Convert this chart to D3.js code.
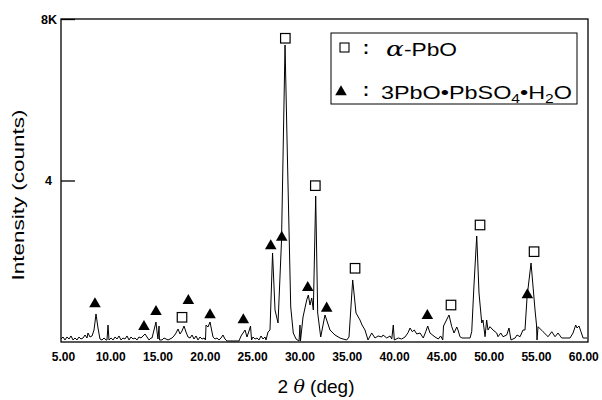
<!DOCTYPE html>
<html lang="en">
<head>
<meta charset="UTF-8">
<title>XRD pattern</title>
<script src="https://cdn.jsdelivr.net/npm/d3@7"></script>
<style>
    body { margin: 0; background: #fff; }
    svg text { font-family: "Liberation Sans", Arial, Helvetica, sans-serif; fill: #000; }
    .x-axis text { font-weight: bold; font-size: 12px; }
    .y-axis text { font-weight: bold; font-size: 12.5px; }
</style>
</head>
<body>
<div id="chart"></div>
<script>
// diffraction pattern (2theta in deg, intensity in counts)
const twoTheta = [
    4.80, 5.01, 5.22, 5.43, 5.65, 5.86, 6.07, 6.28, 6.49, 6.70, 6.91, 7.13, 7.34, 7.55, 7.65, 7.87,
    8.08, 8.29, 8.50, 8.71, 8.92, 9.13, 9.35, 9.56, 9.66, 9.77, 9.87, 10.09, 10.30, 10.51, 10.72, 10.93,
    11.14, 11.35, 11.56, 11.78, 11.99, 12.20, 12.41, 12.62, 12.83, 13.04, 13.26, 13.47, 13.68, 13.89, 14.10, 14.31,
    14.42, 14.63, 14.84, 14.95, 15.05, 15.16, 15.21, 15.48, 15.69, 15.90, 16.11, 16.32,
    16.53, 16.74, 16.96, 17.17, 17.38, 17.59, 17.80, 18.01, 18.22, 18.44, 18.65, 18.86, 19.07, 19.28, 19.49, 19.70,
    19.92, 20.07, 20.13, 20.34, 20.55, 20.76, 20.87, 21.08, 21.29, 21.50, 21.71, 21.92, 22.13, 22.35, 23.61, 23.83,
    24.04, 24.25, 24.46, 24.67, 24.83, 24.94, 25.09, 25.31, 25.52, 25.73, 25.94, 26.15, 26.36, 26.47, 26.68, 26.89,
    27.16, 27.42, 27.74, 28.11, 28.48, 28.72, 29.08, 29.35, 29.64, 29.96, 30.06, 30.11, 30.38, 30.77, 30.94, 31.12,
    31.30, 31.47, 31.72, 31.93, 32.25, 32.70, 33.23, 33.76, 34.29, 34.61, 35.00, 35.24, 35.63, 35.98, 36.40, 36.62,
    36.93, 37.25, 37.64, 37.99, 38.31, 38.70, 38.84, 39.23, 39.58, 39.76, 39.92, 40.03, 40.45, 40.81, 41.16, 41.48,
    41.69, 41.93, 42.14, 42.40, 42.75, 43.09, 43.35, 43.56, 43.80, 44.33, 44.68, 44.93, 45.15, 45.23, 45.81, 46.10,
    46.34, 46.63, 46.76, 46.97, 47.19, 47.61, 48.03, 48.21, 48.45, 48.74, 48.98, 49.27, 49.40, 49.62, 49.79, 49.93,
    50.14, 50.46, 50.85, 50.99, 51.28, 51.52, 51.91, 52.15, 52.36, 52.79, 53.00, 53.32, 53.63, 53.84, 54.06, 54.48,
    54.90, 55.06, 55.11, 55.22, 55.75, 56.28, 56.67, 57.02, 57.33, 57.72, 58.60, 58.92, 59.20, 59.34, 59.55, 59.76,
    59.98, 60.40
];
const counts = [
    74, 124, 50, 124, 74, 149, 50, 99, 50, 124, 74, 99, 173, 99, 223, 124,
    149, 297, 694, 347, 74, 50, 99, 50, 50, 421, 50, 99, 50, 124, 74, 149,
    50, 99, 74, 149, 50, 124, 74, 99, 50, 124, 99, 149, 198, 124, 50, 99,
    99, 297, 495, 248, 74, 396, 50, 50, 99, 74, 50, 74,
    99, 149, 223, 322, 198, 272, 396, 248, 124, 99, 173, 74, 149, 50, 124, 74,
    99, 50, 421, 372, 495, 248, 124, 74, 99, 50, 99, 173, 74, 25, 25, 149,
    223, 297, 124, 272, 396, 50, 124, 74, 99, 50, 149, 74, 124, 50, 248, 297,
    2205, 793, 471, 2526, 7357, 4682, 867, 223, 74, 25, 421, 25, 619, 1040, 1164, 916,
    1090, 793, 3616, 718, 124, 669, 297, 173, 99, 74, 50, 124, 1536, 718, 545, 421,
    297, 50, 223, 99, 149, 124, 173, 99, 149, 74, 421, 50, 99, 74, 124, 230,
    347, 255, 297, 198, 223, 99, 255, 396, 223, 124, 74, 149, 50, 396, 669, 379,
    223, 372, 297, 130, 99, 99, 99, 255, 1412, 2626, 1214, 471, 545, 131, 545, 297,
    379, 297, 223, 131, 223, 131, 173, 347, 50, 99, 173, 131, 297, 297, 1115, 1957,
    793, 421, 50, 379, 255, 131, 255, 131, 223, 99, 99, 223, 421, 347, 396, 255,
    99, 99
];

// peak markers
const alphaPbOTheta = [17.59, 28.51, 31.68, 35.88, 46.02, 49.09, 54.80];
const alphaPbOCounts = [612, 7523, 3872, 1826, 916, 2898, 2237];
const sulfateTheta = [8.39, 13.57, 14.84, 18.26, 20.55, 24.07, 26.97, 28.13, 30.88, 32.88, 43.52, 54.09];
const sulfateCounts = [941, 379, 751, 1023, 669, 545, 2378, 2593, 1345, 835, 651, 1164];

const xTicks = [5, 10, 15, 20, 25, 30, 35, 40, 45, 50, 55, 60];
const yTicks = [4000, 8000];
const yTickLabels = ["4", "8K"];

const width = 602, height = 400;
const margin = {top: 19, right: 14, bottom: 58, left: 61};
const w = width - margin.left - margin.right,
      h = height - margin.top - margin.bottom;

const svg = d3.select("#chart")
    .append("svg")
    .attr("width", width)
    .attr("height", height);

const g = svg.append("g")
    .attr("transform", `translate(${margin.left}, ${margin.top})`);

const x = d3.scaleLinear().domain([4.8, 60.5]).range([0, w]);
const y = d3.scaleLinear().domain([0, 8000]).range([h, 0]);

// spectrum
const line = d3.line()
    .x(d => x(d[0]))
    .y(d => y(d[1]));

g.append("path")
    .datum(d3.zip(twoTheta, counts))
    .attr("fill", "none")
    .attr("stroke", "#000")
    .attr("stroke-width", 1)
    .attr("stroke-linejoin", "round")
    .attr("d", line);

// frame
g.append("rect")
    .attr("width", w)
    .attr("height", h)
    .attr("fill", "none")
    .attr("stroke", "#000")
    .attr("stroke-width", 1.3);

// axes
const xAxis = g.append("g")
    .attr("class", "x-axis")
    .attr("transform", `translate(0, ${h})`)
    .call(d3.axisBottom(x).tickValues(xTicks).tickSize(0).tickPadding(10).tickFormat(d3.format(".2f")));
xAxis.select(".domain").remove();

const yAxis = g.append("g")
    .attr("class", "y-axis")
    .call(d3.axisLeft(y).tickValues(yTicks).tickSizeInner(-14).tickSizeOuter(0).tickPadding(4)
        .tickFormat((d, i) => yTickLabels[i]));
yAxis.select(".domain").remove();
yAxis.selectAll("line").attr("stroke-width", 1.3);
yAxis.selectAll("text").attr("dx", d => d === 4000 ? -5 : 0);

// markers
const tri = d3.symbol().type(d3.symbolTriangle).size(58);
g.selectAll(".tri")
    .data(d3.zip(sulfateTheta, sulfateCounts))
    .join("path")
    .attr("class", "tri")
    .attr("transform", d => `translate(${x(d[0])}, ${y(d[1])})`)
    .attr("d", tri)
    .attr("fill", "#000");

const sq = 9.5;
g.selectAll(".sq")
    .data(d3.zip(alphaPbOTheta, alphaPbOCounts))
    .join("rect")
    .attr("class", "sq")
    .attr("x", d => x(d[0]) - sq / 2)
    .attr("y", d => y(d[1]) - sq / 2)
    .attr("width", sq)
    .attr("height", sq)
    .attr("fill", "#fff")
    .attr("stroke", "#000")
    .attr("stroke-width", 1.2);

// axis titles
svg.append("text")
    .attr("transform", "translate(24, 195) rotate(-90)")
    .attr("text-anchor", "middle")
    .attr("font-size", 17)
    .attr("textLength", 171)
    .attr("lengthAdjust", "spacingAndGlyphs")
    .text("Intensity (counts)");

const xt = svg.append("text")
    .attr("x", 316)
    .attr("y", 393)
    .attr("text-anchor", "middle")
    .attr("font-size", 19);
xt.append("tspan").text("2 ");
xt.append("tspan").attr("font-style", "italic").attr("font-family", "DejaVu Serif, serif").text("θ");
xt.append("tspan").text(" (deg)");

// legend
const lg = svg.append("g").attr("transform", "translate(331, 33)");
lg.append("rect")
    .attr("width", 246)
    .attr("height", 71)
    .attr("fill", "#fff")
    .attr("stroke", "#000")
    .attr("stroke-width", 1);

lg.append("rect")
    .attr("x", 9).attr("y", 10)
    .attr("width", 9).attr("height", 9)
    .attr("fill", "#fff").attr("stroke", "#000").attr("stroke-width", 1.1);
lg.append("path")
    .attr("transform", "translate(10, 59)")
    .attr("d", tri)
    .attr("fill", "#000");

lg.selectAll(".colon")
    .data([21, 63])
    .join("text")
    .attr("class", "colon")
    .attr("x", 32)
    .attr("y", d => d)
    .attr("font-size", 18)
    .attr("font-weight", "bold")
    .text(":");

const l1 = lg.append("text")
    .attr("x", 55)
    .attr("y", 23)
    .attr("font-size", 18)
    .attr("textLength", 71)
    .attr("lengthAdjust", "spacingAndGlyphs");
l1.append("tspan").attr("font-style", "italic").attr("font-family", "DejaVu Serif, serif").attr("font-size", 21).text("α");
l1.append("tspan").text("-PbO");

const l2 = lg.append("text")
    .attr("x", 50)
    .attr("y", 66)
    .attr("font-size", 18)
    .attr("textLength", 191)
    .attr("lengthAdjust", "spacingAndGlyphs");
l2.append("tspan").text("3PbO•PbSO");
l2.append("tspan").attr("font-size", 12).attr("dy", 4).text("4");
l2.append("tspan").attr("dy", -4).text("•H");
l2.append("tspan").attr("font-size", 12).attr("dy", 4).text("2");
l2.append("tspan").attr("dy", -4).text("O");
</script>
</body>
</html>
